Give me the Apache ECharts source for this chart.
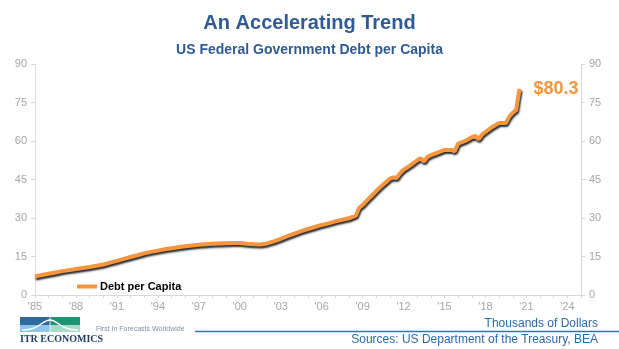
<!DOCTYPE html>
<html><head><meta charset="utf-8">
<script src="https://cdn.jsdelivr.net/npm/echarts@6/dist/echarts.min.js"></script>
<style>html,body{margin:0;padding:0;background:#fff}#c{width:619px;height:349px}</style>
</head><body><div id="c"></div>
<script>
const years = [1985.0,1985.5,1986.0,1986.5,1987.0,1987.5,1988.0,1988.5,1989.0,1989.5,1990.0,1990.5,1991.0,1991.5,1992.0,1992.5,1993.0,1993.5,1994.0,1994.5,1995.0,1995.5,1996.0,1996.5,1997.0,1997.5,1998.0,1998.5,1999.0,1999.5,2000.0,2000.5,2001.0,2001.5,2002.0,2002.5,2003.0,2003.5,2004.0,2004.5,2005.0,2005.5,2006.0,2006.5,2007.0,2007.5,2008.0,2008.25,2008.5,2008.75,2009.0,2009.5,2010.0,2010.5,2011.0,2011.25,2011.5,2011.75,2012.0,2012.5,2013.0,2013.25,2013.5,2013.75,2014.0,2014.5,2015.0,2015.5,2015.75,2016.0,2016.5,2017.0,2017.25,2017.5,2017.75,2018.0,2018.5,2019.0,2019.25,2019.5,2019.75,2020.0,2020.25,2020.5];
const debtPerCapita = [7.2,7.8,8.3,8.8,9.3,9.7,10.1,10.5,10.9,11.4,11.9,12.6,13.3,14.1,14.8,15.5,16.2,16.8,17.3,17.8,18.2,18.6,19.0,19.3,19.6,19.8,20.0,20.1,20.2,20.3,20.3,20.0,19.8,19.7,20.1,20.9,21.9,22.9,23.9,24.9,25.7,26.5,27.3,27.9,28.7,29.3,29.9,30.4,30.9,34.0,35.0,37.8,40.5,43.0,45.3,45.8,45.6,47.5,48.8,50.5,52.5,53.3,52.0,53.8,54.5,55.5,56.5,56.5,56.0,59.0,60.0,61.5,62.0,60.7,62.5,63.5,65.5,67.0,67.0,67.0,69.5,71.0,72.0,80.3];
const xTickLabels = ["'85","'88","'91","'94","'97","'00","'03","'06","'09","'12","'15","'18","'21","'24"];
const yTicks = [0,15,30,45,60,75,90];

const chart = echarts.init(document.getElementById('c'), null, {renderer:'canvas'});
const orange = '#F7953F';
const grey = '#A6A6A6';
const axisLineC = '#D9D9D9';
const blue = '#2F5A92';
const yAxisCommon = {
  type:'value', min:0, max:90, interval:15,
  axisLine:{show:true, lineStyle:{color:axisLineC, width:1}},
  axisTick:{show:true, length:4, lineStyle:{color:axisLineC}},
  axisLabel:{color:grey, fontSize:11, fontFamily:'Arial, Liberation Sans', margin:8},
  splitLine:{show:false}
};
chart.setOption({
  animation:false,
  title:[
    {text:'An Accelerating Trend', left:'center', top:8, textStyle:{color:blue, fontSize:20, fontWeight:'bold', fontFamily:'Arial, Liberation Sans'}},
    {text:'US Federal Government Debt per Capita', left:'center', top:38, textStyle:{color:blue, fontSize:14, fontWeight:'bold', fontFamily:'Arial, Liberation Sans'}}
  ],
  legend:{
    left:72, top:276, itemWidth:20, itemHeight:4, itemGap:4,
    icon:'rect',
    textStyle:{color:'#000', fontSize:11, fontWeight:'bold', fontFamily:'Arial, Liberation Sans', padding:[0,0,0,-2]},
    data:['Debt per Capita']
  },
  grid:{left:35, right:38, top:64, bottom:54, containLabel:false},
  xAxis:{
    type:'value', min:1985, max:2025, interval:3,
    axisLine:{show:true, lineStyle:{color:axisLineC}},
    axisTick:{show:true, length:3, lineStyle:{color:axisLineC}},
    minorTick:{show:true, splitNumber:3, length:3, lineStyle:{color:axisLineC}},
    axisLabel:{color:grey, fontSize:11, fontFamily:'Arial, Liberation Sans', margin:6, showMaxLabel:false,
      formatter:function(v){ const i = Math.round((v-1985)/3); return xTickLabels[i] || ''; }},
    splitLine:{show:false}
  },
  yAxis:[
    Object.assign({position:'left'}, yAxisCommon),
    Object.assign({position:'right'}, yAxisCommon)
  ],
  series:[{
    name:'Debt per Capita', type:'line', symbol:'none',
    data: years.map((y,i)=>[y, debtPerCapita[i]]),
    itemStyle:{color:orange},
    lineStyle:{color:orange, width:4, shadowColor:'rgba(0,0,0,0.85)', shadowBlur:2, shadowOffsetX:1, shadowOffsetY:2},
    endLabel:{show:true, distance:14, formatter:function(p){return '$'+p.value[1].toFixed(1);},
      color:orange, fontSize:18, fontWeight:'bold', fontFamily:'Arial, Liberation Sans'}
  }],
  graphic:[
    {type:'rect', shape:{x:20,y:317,width:30,height:8}, style:{fill:'#2E6A9E'}},
    {type:'rect', shape:{x:50,y:317,width:30,height:8}, style:{fill:'#1E9474'}},
    {type:'rect', shape:{x:20,y:325,width:30,height:7}, style:{fill:'#8EC4E8'}},
    {type:'rect', shape:{x:50,y:325,width:30,height:7}, style:{fill:'#A6DBC8'}},
    {type:'bezierCurve', shape:{x1:22,y1:330,x2:50,y2:320,cpx1:40,cpy1:330,cpx2:42,cpy2:320}, style:{stroke:'#fff', lineWidth:1.4, fill:null}},
    {type:'bezierCurve', shape:{x1:50,y1:320,x2:78,y2:330,cpx1:58,cpy1:320,cpx2:60,cpy2:330}, style:{stroke:'#fff', lineWidth:1.4, fill:null}},
    {type:'line', shape:{x1:50,y1:317,x2:50,y2:332}, style:{stroke:'#fff', lineWidth:0.8}},
    {type:'text', left:20, top:334, style:{text:'ITR ECONOMICS', fill:'#1F3D6B', font:'bold 10px "Liberation Serif", "DejaVu Serif", serif'}},
    {type:'text', left:96, top:326, style:{text:'First In Forecasts Worldwide', fill:'#7F8FA8', font:'7px Arial, "Liberation Sans"'}},
    {type:'line', shape:{x1:195,y1:331.5,x2:619,y2:331.5}, style:{stroke:'#2E75B6', lineWidth:1.5}},
    {type:'text', right:21, top:318, style:{text:'Thousands of Dollars', fill:'#2F68A4', font:'12px Arial, "Liberation Sans"'}},
    {type:'text', right:21, top:334, style:{text:'Sources: US Department of the Treasury, BEA', fill:'#2F68A4', font:'12px Arial, "Liberation Sans"'}}
  ]
});
</script></body></html>
